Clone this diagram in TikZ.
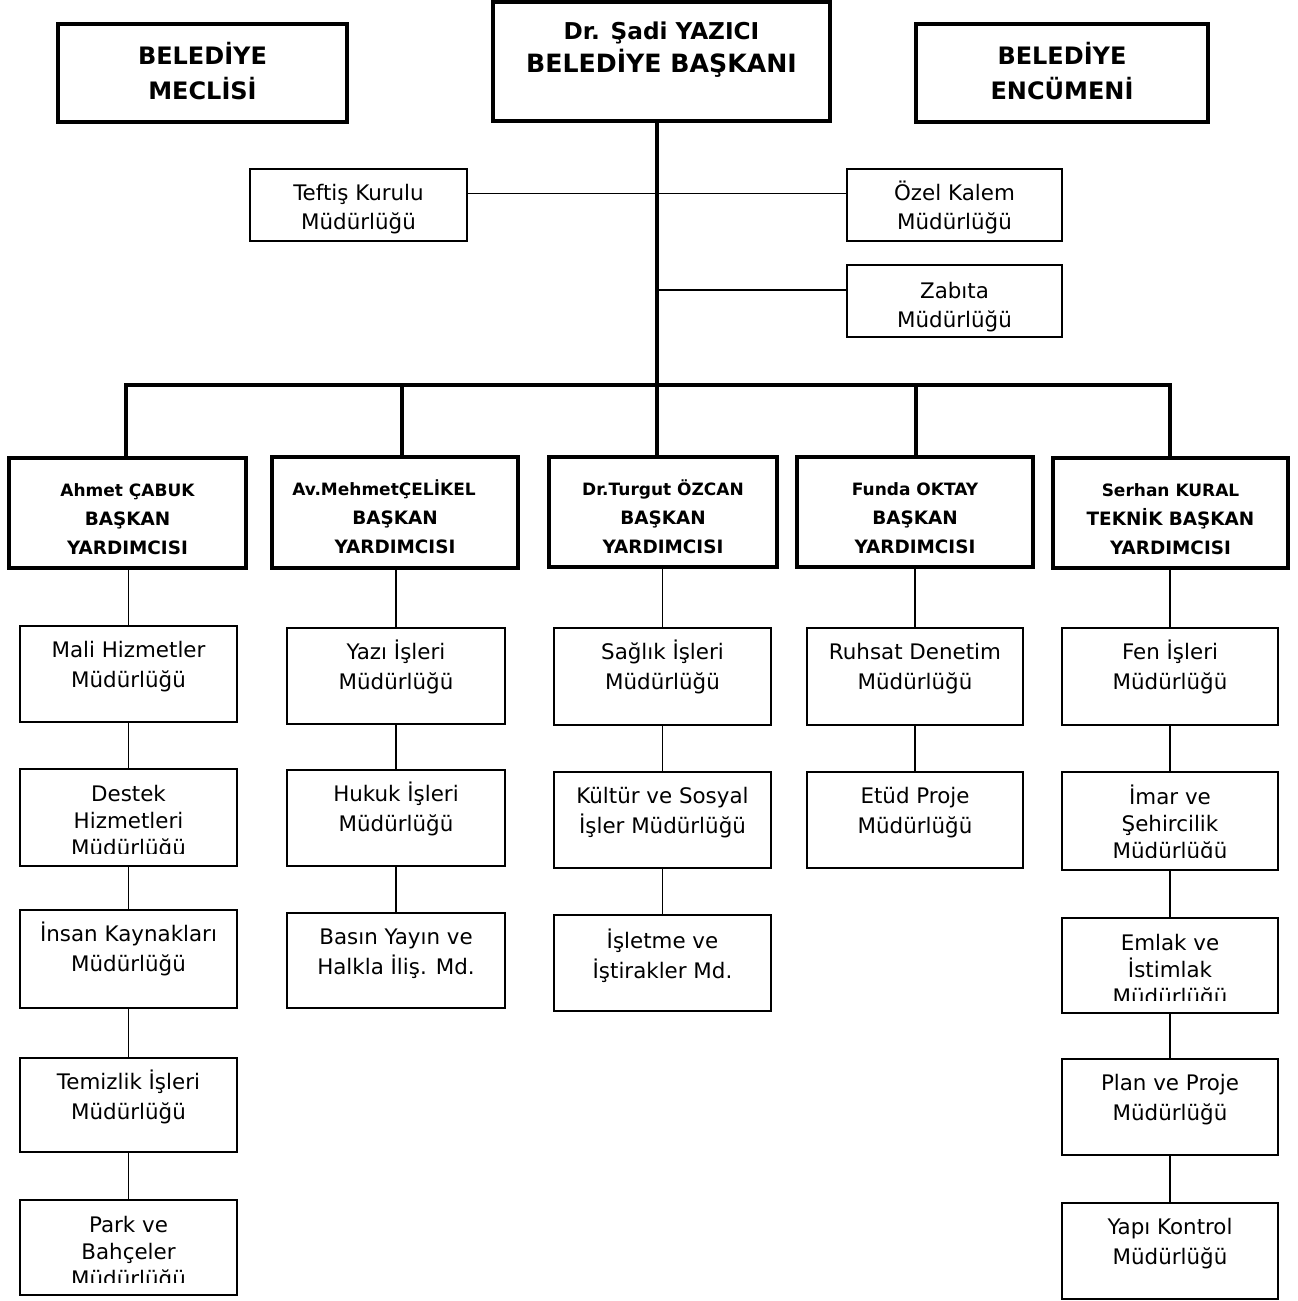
\documentclass[tikz,border=0pt]{standalone}
\usepackage{fontspec}
\setmainfont{DejaVu Sans}
\tikzset{
  thickbox/.style={draw, line width=1.8pt, inner sep=0pt, outer sep=0pt},
  vpbox/.style={draw, line width=1.9pt, inner sep=0pt, outer sep=0pt},
  subbox/.style={draw, line width=0.85pt, inner sep=0pt, outer sep=0pt},
  toptxt/.style={font=\bfseries\fontsize{12}{17.5}\selectfont, align=center, inner sep=0pt},
  bosstxt/.style={font=\bfseries\fontsize{12.6}{16.5}\selectfont, align=center, inner sep=0pt},
  vptxt/.style={font=\bfseries\fontsize{9.2}{14.5}\selectfont, align=center, inner sep=0pt},
  subtxt/.style={font=\fontsize{10.7}{15}\selectfont, align=center, inner sep=0pt},
  smalltxt/.style={font=\fontsize{10.7}{14.5}\selectfont, align=center, inner sep=0pt},
  subtxtc/.style={font=\fontsize{10.7}{13.5}\selectfont, align=center, inner sep=0pt},
  thickline/.style={line width=2pt},
  thinline/.style={line width=0.85pt}
}
% #1 name, #2 x1, #3 y1, #4 x2, #5 y2, #6 box style, #7 text style, #8 baseline offset, #9 text
\newcommand{\obox}[9]{%
  \node[#6, minimum width={(#4-#2)*0.5pt}, minimum height={(#5-#3)*0.5pt}] (#1) at ({(#2+#4)/2},{(#3+#5)/2}) {};
  \node[#7, anchor=north] (#1t) at ({(#2+#4)/2},{#3+#8-24}) {\rule{0pt}{12pt}#9};}
% same, text clipped near the bottom of the box
\newcommand{\cbox}[9]{%
  \node[#6, minimum width={(#4-#2)*0.5pt}, minimum height={(#5-#3)*0.5pt}] (#1) at ({(#2+#4)/2},{(#3+#5)/2}) {};
  \begin{scope}
    \clip (#2,#3) rectangle (#4,{#5-13});
    \node[#7, anchor=north] (#1t) at ({(#2+#4)/2},{#3+#8-24}) {\rule{0pt}{12pt}#9};
  \end{scope}}
\begin{document}
\begin{tikzpicture}[x=0.5pt, y=-0.5pt]
\useasboundingbox (0,0) rectangle (1297,1301);

% top level
\obox{meclis}{58}{24}{347}{122}{thickbox}{toptxt}{40}{BELEDİYE\\MECLİSİ}
\obox{encumen}{916}{24}{1208}{122}{thickbox}{toptxt}{40}{BELEDİYE\\ENCÜMENİ}
\obox{baskan}{493}{2}{830}{121}{thickbox}{bosstxt}{37}{{\fontsize{11.6}{16.5}\selectfont Dr. Şadi YAZICI}\\BELEDİYE BAŞKANI}

\obox{teftis}{250}{169}{467}{241}{subbox}{smalltxt}{31}{Teftiş Kurulu\\Müdürlüğü}
\obox{ozel}{847}{169}{1062}{241}{subbox}{smalltxt}{31}{Özel Kalem\\Müdürlüğü}
\obox{zabita}{847}{265}{1062}{337}{subbox}{smalltxt}{33}{Zabıta\\Müdürlüğü}

% vice presidents
\obox{vpa}{9}{458}{246}{568}{vpbox}{vptxt}{38}{{\fontsize{8.5}{14.5}\selectfont Ahmet ÇABUK}\\BAŞKAN\\YARDIMCISI}
\obox{vpb}{272}{457}{518}{568}{vpbox}{vptxt}{38}{{\fontsize{8.5}{14.5}\selectfont Av.MehmetÇELİKEL\hspace*{11pt}}\\BAŞKAN\\YARDIMCISI}
\obox{vpc}{549}{457}{777}{567}{vpbox}{vptxt}{38}{{\fontsize{8.5}{14.5}\selectfont Dr.Turgut ÖZCAN}\\BAŞKAN\\YARDIMCISI}
\obox{vpd}{797}{457}{1033}{567}{vpbox}{vptxt}{38}{{\fontsize{8.5}{14.5}\selectfont Funda OKTAY}\\BAŞKAN\\YARDIMCISI}
\obox{vpe}{1053}{458}{1288}{568}{vpbox}{vptxt}{38}{{\fontsize{8.5}{14.5}\selectfont Serhan KURAL}\\TEKNİK BAŞKAN\\YARDIMCISI}

% column 1
\obox{a1}{20}{626}{237}{722}{subbox}{subtxt}{31}{Mali Hizmetler\\Müdürlüğü}
\cbox{a2}{20}{769}{237}{866}{subbox}{subtxtc}{32}{Destek\\Hizmetleri\\Müdürlüğü}
\obox{a3}{20}{910}{237}{1008}{subbox}{subtxt}{31}{İnsan Kaynakları\\Müdürlüğü}
\obox{a4}{20}{1058}{237}{1152}{subbox}{subtxt}{31}{Temizlik İşleri\\Müdürlüğü}
\cbox{a5}{20}{1200}{237}{1295}{subbox}{subtxtc}{32}{Park ve\\Bahçeler\\Müdürlüğü}

% column 2
\obox{b1}{287}{628}{505}{724}{subbox}{subtxt}{31}{Yazı İşleri\\Müdürlüğü}
\obox{b2}{287}{770}{505}{866}{subbox}{subtxt}{31}{Hukuk İşleri\\Müdürlüğü}
\obox{b3}{287}{913}{505}{1008}{subbox}{subtxt}{31}{Basın Yayın ve\\Halkla İliş. Md.}

% column 3
\obox{c1}{554}{628}{771}{725}{subbox}{subtxt}{31}{Sağlık İşleri\\Müdürlüğü}
\obox{c2}{554}{772}{771}{868}{subbox}{subtxt}{31}{Kültür ve Sosyal\\İşler Müdürlüğü}
\obox{c3}{554}{915}{771}{1011}{subbox}{subtxt}{33}{İşletme ve\\İştirakler Md.}

% column 4
\obox{d1}{807}{628}{1023}{725}{subbox}{subtxt}{31}{Ruhsat Denetim\\Müdürlüğü}
\obox{d2}{807}{772}{1023}{868}{subbox}{subtxt}{31}{Etüd Proje\\Müdürlüğü}

% column 5
\obox{e1}{1062}{628}{1278}{725}{subbox}{subtxt}{31}{Fen İşleri\\Müdürlüğü}
\cbox{e2}{1062}{772}{1278}{870}{subbox}{subtxtc}{32}{İmar ve\\Şehircilik\\Müdürlüğü}
\cbox{e3}{1062}{918}{1278}{1013}{subbox}{subtxtc}{32}{Emlak ve\\İstimlak\\Müdürlüğü}
\obox{e4}{1062}{1059}{1278}{1155}{subbox}{subtxt}{31}{Plan ve Proje\\Müdürlüğü}
\obox{e5}{1062}{1203}{1278}{1299}{subbox}{subtxt}{31}{Yapı Kontrol\\Müdürlüğü}

% trunk and bus
\coordinate (bus) at (657,385);
\coordinate (busl) at (126,385);
\coordinate (busr) at (1170,385);
\coordinate (dropa) at (126,385);
\coordinate (dropb) at (402,385);
\coordinate (dropc) at (657,385);
\coordinate (dropd) at (916,385);
\coordinate (drope) at (1170,385);
\draw[thickline] (baskan.south -| bus) -- (bus);
\draw[thickline, line cap=rect] (busl) -- (busr);
\foreach \v in {a,b,c,d,e}{\draw[thickline] (drop\v) -- (drop\v |- vp\v.north);}

% staff units
\draw[thinline] ([yshift=5.75pt]teftis.east) -- ([yshift=5.75pt]ozel.west);
\draw[thinline] ([yshift=5.5pt]zabita.west -| bus) -- ([yshift=5.5pt]zabita.west);

% departments
\draw[thinline] (vpa.south -| a1.north) -- (a1.north);
\draw[thinline] (a1.south) -- (a2.north);
\draw[thinline] (a2.south) -- (a3.north);
\draw[thinline] (a3.south) -- (a4.north);
\draw[thinline] (a4.south) -- (a5.north);

\draw[thinline] (vpb.south -| b1.north) -- (b1.north);
\draw[thinline] (b1.south) -- (b2.north);
\draw[thinline] (b2.south) -- (b3.north);

\draw[thinline] (vpc.south -| c1.north) -- (c1.north);
\draw[thinline] (c1.south) -- (c2.north);
\draw[thinline] (c2.south) -- (c3.north);

\draw[thinline] (vpd.south -| d1.north) -- (d1.north);
\draw[thinline] (d1.south) -- (d2.north);

\draw[thinline] (vpe.south -| e1.north) -- (e1.north);
\draw[thinline] (e1.south) -- (e2.north);
\draw[thinline] (e2.south) -- (e3.north);
\draw[thinline] (e3.south) -- (e4.north);
\draw[thinline] (e4.south) -- (e5.north);
\end{tikzpicture}
\end{document}
